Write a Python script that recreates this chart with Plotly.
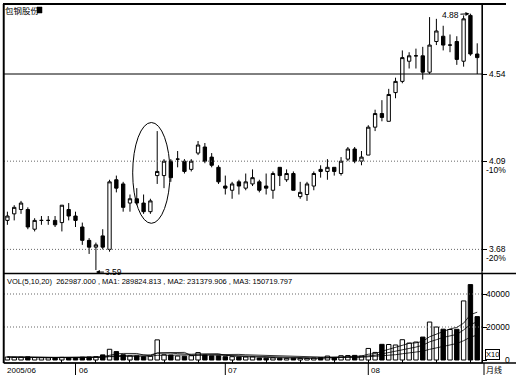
import numpy as np
import pandas as pd
import plotly.graph_objects as go

# ---------------- data ----------------
stock_name = "包钢股份"
opens = [3.81, 3.84, 3.86, 3.86, 3.77, 3.81, 3.81, 3.81, 3.80, 3.86,
         3.83, 3.78, 3.72, 3.69, 3.74, 3.68, 4.00, 3.98, 3.89, 3.91,
         3.89, 3.85, 4.02, 4.02, 4.09, 4.10, 4.09, 4.05, 4.13, 4.16,
         4.11, 4.06, 3.97, 3.95, 3.99, 3.96, 3.98, 3.99, 3.97, 3.95,
         4.06, 4.00, 4.03, 3.92, 3.93, 3.97, 4.05, 4.04, 4.06, 4.03,
         4.10, 4.15, 4.09, 4.12, 4.26, 4.33, 4.29, 4.44, 4.50, 4.61,
         4.64, 4.64, 4.55, 4.72, 4.75, 4.70, 4.72, 4.61, 4.87, 4.65]
highs = [3.85, 3.88, 3.90, 3.87, 3.82, 3.83, 3.83, 3.83, 3.88, 3.89,
         3.85, 3.80, 3.73, 3.71, 3.77, 4.00, 4.02, 3.99, 3.93, 3.96,
         3.93, 3.91, 4.24, 4.10, 4.10, 4.14, 4.10, 4.10, 4.19, 4.18,
         4.13, 4.07, 4.02, 3.99, 4.00, 4.03, 4.05, 4.00, 4.03, 4.04,
         4.06, 4.05, 4.04, 3.99, 3.99, 4.04, 4.07, 4.10, 4.06, 4.11,
         4.16, 4.16, 4.14, 4.27, 4.35, 4.40, 4.46, 4.52, 4.67, 4.66,
         4.68, 4.69, 4.86, 4.85, 4.81, 4.76, 4.75, 4.87, 4.88, 4.71]
lows = [3.79, 3.81, 3.84, 3.77, 3.76, 3.79, 3.79, 3.78, 3.76, 3.81,
        3.78, 3.70, 3.66, 3.59, 3.68, 3.67, 3.94, 3.85, 3.85, 3.88,
        3.84, 3.84, 3.98, 3.96, 3.99, 4.06, 4.03, 4.04, 4.12, 4.08,
        4.06, 3.98, 3.93, 3.91, 3.93, 3.95, 3.97, 3.94, 3.93, 3.91,
        3.97, 3.99, 3.95, 3.91, 3.90, 3.95, 4.01, 4.00, 4.02, 4.02,
        4.09, 4.08, 4.07, 4.12, 4.24, 4.29, 4.29, 4.41, 4.49, 4.57,
        4.57, 4.51, 4.54, 4.70, 4.67, 4.66, 4.59, 4.58, 4.64, 4.54]
closes = [3.83, 3.87, 3.89, 3.78, 3.81, 3.81, 3.81, 3.79, 3.88, 3.83,
          3.81, 3.72, 3.69, 3.70, 3.69, 3.99, 3.96, 3.87, 3.91, 3.89,
          3.85, 3.90, 4.04, 4.09, 4.01, 4.10, 4.04, 4.09, 4.17, 4.09,
          4.07, 3.99, 3.96, 3.98, 3.97, 3.99, 4.01, 3.95, 3.96, 4.03,
          4.02, 4.03, 3.95, 3.94, 3.98, 4.03, 4.04, 4.06, 4.04, 4.09,
          4.15, 4.09, 4.11, 4.26, 4.33, 4.31, 4.43, 4.50, 4.63, 4.64,
          4.64, 4.55, 4.70, 4.78, 4.70, 4.70, 4.62, 4.85, 4.65, 4.63]
volumes = [1800, 1600, 1700, 1900, 1500, 1400, 1300, 1400, 1600, 1500,
           1400, 1700, 1800, 2000, 3100, 6500, 5100, 3200, 2500, 2500,
           2000, 2300, 12200, 3200, 3000, 2400, 2300, 2600, 4500, 3000,
           2500, 2500, 2000, 2000, 1800, 1800, 1900, 1200, 1100, 1300,
           1100, 1000, 1100, 1000, 1000, 1200, 1400, 2400, 1500, 2600,
           2700, 2800, 2400, 7000, 4600, 9500, 9400, 9100, 12300, 10260,
           10900, 13900, 23000, 20000, 18681, 18500, 18600, 35800, 45700, 26298.7]
ref_levels = [4.54, 4.09, 3.68]
ref_labels = ["4.54", "4.09", "3.68"]
ref_pct = ["", "-10%", "-20%"]
vol_tick_vals = [0, 20000, 40000]
vol_tick_text = ["0", "20000", "40000"]
date_labels = ["2005/06", "06", "07", "08"]
date_index = [0, 10, 32, 53]
vol_legend = "VOL(5,10,20)  262987.000 , MA1: 289824.813 , MA2: 231379.906 , MA3: 150719.797"
period_label = "月线"
unit_label = "X10"

# ---------------- layout helpers ----------------
n = len(opens)
xs = list(range(n))
W, H = 516, 375
L, R, T, B = 4, 34, 4, 12
pw, ph = W - L - R, H - T - B


def pxx(p):
    return (p - L) / pw


def pxy(p):
    return (H - B - p) / ph


X_RANGE = [-0.5, n - 0.3]
PRICE_RANGE = [0.554612, 0.693457]   # log10
VOL_RANGE = [-1818, 52727]
NUM_FONT = "Liberation Sans, Arial, sans-serif"
CJK_FONT = "Noto Sans CJK SC, sans-serif"

s = pd.Series(volumes, dtype=float)
ma5 = s.rolling(5, min_periods=1).mean()
ma10 = s.rolling(10, min_periods=1).mean()
ma20 = s.rolling(20, min_periods=1).mean()
vol_colors = ["white" if c >= o else "black" for o, c in zip(opens, closes)]

fig = go.Figure()

# reference levels
for lv, lab in zip(ref_levels, ref_labels):
    solid = lab == ref_labels[0]
    fig.add_trace(go.Scatter(x=X_RANGE, y=[lv, lv], mode="lines", xaxis="x", yaxis="y",
                             line=dict(color="black" if solid else "#666", width=1,
                                       dash="solid" if solid else "1px,2px"),
                             hoverinfo="skip", showlegend=False))

fig.add_trace(go.Candlestick(
    x=xs, open=opens, high=highs, low=lows, close=closes, xaxis="x", yaxis="y",
    increasing=dict(line=dict(color="black", width=1), fillcolor="white"),
    decreasing=dict(line=dict(color="black", width=1), fillcolor="black"),
    whiskerwidth=0, showlegend=False, hoverinfo="skip"))

# volume grid
for v in vol_tick_vals[1:]:
    fig.add_trace(go.Scatter(x=X_RANGE, y=[v, v], mode="lines", xaxis="x2", yaxis="y2",
                             line=dict(color="#666", width=1, dash="1px,2px"),
                             hoverinfo="skip", showlegend=False))

fig.add_trace(go.Bar(x=xs, y=volumes, xaxis="x2", yaxis="y2", width=0.65,
                     marker=dict(color=vol_colors, line=dict(color="black", width=1)),
                     hoverinfo="skip", showlegend=False))
for ma in (ma5, ma10, ma20):
    fig.add_trace(go.Scatter(x=xs, y=ma, mode="lines", xaxis="x2", yaxis="y2",
                             line=dict(color="black", width=0.8),
                             hoverinfo="skip", showlegend=False))

ann = []
ann.append(dict(text=stock_name, xref="paper", yref="paper", x=pxx(3), y=pxy(10),
                xanchor="left", yanchor="middle", showarrow=False,
                font=dict(family=CJK_FONT, size=8.5, color="black")))
ann.append(dict(text=vol_legend, xref="paper", yref="paper", x=pxx(5), y=pxy(281),
                xanchor="left", yanchor="middle", showarrow=False,
                font=dict(family=NUM_FONT, size=7.5, color="black")))
for lv, lab, pct in zip(ref_levels, ref_labels, ref_pct):
    ann.append(dict(text=lab, xref="paper", yref="y", x=pxx(508), y=np.log10(lv),
                    xanchor="right", yanchor="middle", showarrow=False,
                    font=dict(family=NUM_FONT, size=8.5, color="black")))
    if pct:
        ann.append(dict(text=pct, xref="paper", yref="y", x=pxx(508), y=np.log10(lv),
                        yshift=-9, xanchor="right", yanchor="middle", showarrow=False,
                        font=dict(family=NUM_FONT, size=8.5, color="black")))
for v, t in zip(vol_tick_vals, vol_tick_text):
    ann.append(dict(text=t, xref="paper", yref="y2", x=pxx(512), y=v,
                    xanchor="right", yanchor="middle", showarrow=False,
                    font=dict(family=NUM_FONT, size=8.5, color="black")))
ann.append(dict(text=unit_label, xref="paper", yref="paper", x=pxx(492.5), y=pxy(354),
                xanchor="center", yanchor="middle", showarrow=False, bordercolor="black",
                borderwidth=1, borderpad=0, bgcolor="white",
                font=dict(family=NUM_FONT, size=7.5, color="black")))
ann.append(dict(text=period_label, xref="paper", yref="paper", x=pxx(494), y=pxy(369),
                xanchor="center", yanchor="middle", showarrow=False,
                font=dict(family=CJK_FONT, size=8, color="black")))
# high / low markers
hi_i = int(np.argmax(highs))
lo_i = int(np.argmin(lows))
ann.append(dict(text=f"{highs[hi_i]:.2f}", xref="x", yref="y", x=hi_i, y=np.log10(highs[hi_i]),
                ax=-20, ay=1, showarrow=True, arrowhead=2, arrowsize=0.8, arrowwidth=1,
                arrowcolor="black", standoff=1,
                font=dict(family=NUM_FONT, size=8.5, color="black")))
ann.append(dict(text=f"{lows[lo_i]:.2f}", xref="x", yref="y", x=lo_i, y=np.log10(lows[lo_i]),
                ax=18, ay=0, yshift=-2, showarrow=True, arrowhead=2, arrowsize=0.8, arrowwidth=1,
                arrowcolor="black", standoff=0,
                font=dict(family=NUM_FONT, size=8.5, color="black")))
# dates
shapes = []
for k, (lab, idx) in enumerate(zip(date_labels, date_index)):
    if k == 0:
        ann.append(dict(text=lab, xref="paper", yref="paper", x=pxx(5), y=pxy(370),
                        xanchor="left", yanchor="middle", showarrow=False,
                        font=dict(family=NUM_FONT, size=8, color="black")))
    else:
        ann.append(dict(text=lab, xref="x", yref="paper", x=idx, y=pxy(370), xshift=1,
                        xanchor="left", yanchor="middle", showarrow=False,
                        font=dict(family=NUM_FONT, size=8, color="black")))
        shapes.append(dict(type="line", xref="x", yref="paper", x0=idx, x1=idx,
                           y0=pxy(363), y1=pxy(375), line=dict(color="black", width=1)))

shapes += [
    dict(type="rect", xref="paper", yref="paper", x0=0, x1=1, y0=0, y1=1,
         line=dict(color="black", width=1.2)),
    dict(type="line", xref="paper", yref="paper", x0=pxx(3), x1=pxx(506), y0=pxy(4), y1=pxy(4),
         line=dict(color="black", width=2)),
    dict(type="line", xref="paper", yref="paper", x0=pxx(3.5), x1=pxx(3.5), y0=pxy(4), y1=pxy(363),
         line=dict(color="black", width=1.5)),
    dict(type="line", xref="paper", yref="paper", x0=0, x1=pxx(516), y0=pxy(273.5), y1=pxy(273.5),
         line=dict(color="black", width=1.5)),
    dict(type="line", xref="paper", yref="paper", x0=0, x1=pxx(516), y0=pxy(363), y1=pxy(363),
         line=dict(color="black", width=1.5)),
    dict(type="circle", xref="paper", yref="paper", x0=pxx(132.7), x1=pxx(170),
         y0=pxy(223.3), y1=pxy(122.5), line=dict(color="black", width=1)),
    dict(type="rect", xref="paper", yref="paper", x0=pxx(37), x1=pxx(42), y0=pxy(13), y1=pxy(7),
         line=dict(color="black", width=0.5), fillcolor="black"),
    dict(type="line", xref="paper", yref="paper", x0=pxx(484), x1=pxx(484), y0=pxy(363), y1=pxy(375),
         line=dict(color="black", width=1)),
]

fig.update_layout(
    width=W, height=H, margin=dict(l=L, r=R, t=T, b=B, pad=0),
    paper_bgcolor="white", plot_bgcolor="white", showlegend=False,
    font=dict(family=NUM_FONT, size=9, color="black"),
    bargap=0.3,
    xaxis=dict(domain=[0, 1], range=X_RANGE, anchor="y", showticklabels=False, showgrid=False,
               zeroline=False, showline=False, rangeslider=dict(visible=False), fixedrange=True),
    yaxis=dict(domain=[pxy(271), 1], type="log", range=PRICE_RANGE, side="right", anchor="x",
               showgrid=False, zeroline=False, showline=True, linecolor="black", linewidth=1,
               ticks="outside", ticklen=4, tickcolor="black", tickvals=ref_levels,
               showticklabels=False, fixedrange=True),
    xaxis2=dict(domain=[0, 1], range=X_RANGE, anchor="y2", showticklabels=False, showgrid=False,
                zeroline=False, showline=False, ticks="inside", ticklen=3, tickcolor="black",
                tickvals=list(range(8, n, 5)), fixedrange=True),
    yaxis2=dict(domain=[0, pxy(273)], range=VOL_RANGE, side="right", anchor="x2",
                showgrid=False, zeroline=False, showline=True, linecolor="black", linewidth=1,
                ticks="outside", ticklen=4, tickcolor="black", tickvals=vol_tick_vals,
                showticklabels=False, fixedrange=True),
    annotations=ann, shapes=shapes,
)

fig.write_html("out.html")
